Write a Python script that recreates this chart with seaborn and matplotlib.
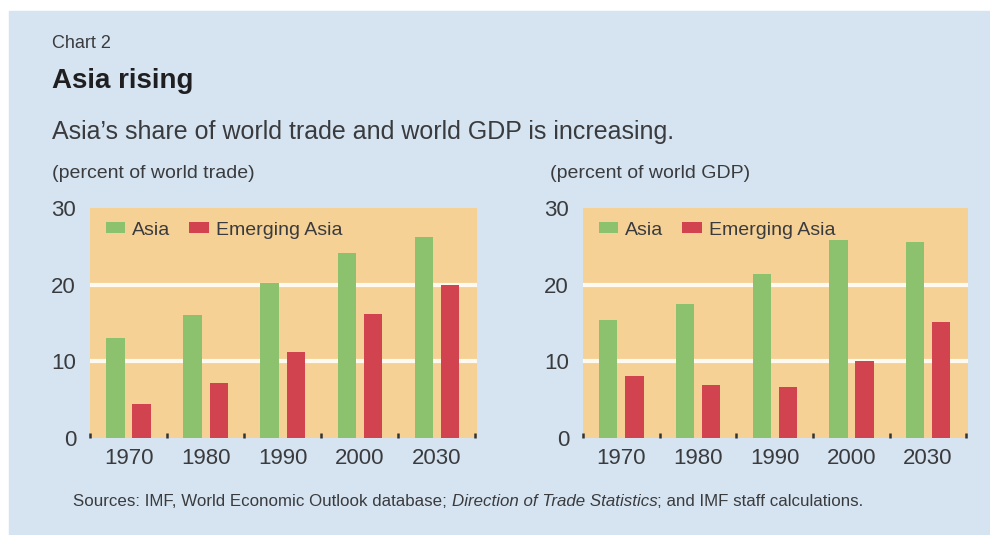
import matplotlib
matplotlib.use("Agg")
import matplotlib.pyplot as plt
import numpy as np
import pandas as pd
import seaborn as sns
from matplotlib.patches import Rectangle

years = ["1970", "1980", "1990", "2000", "2030"]
series_names = ["Asia", "Emerging Asia"]
trade_asia = [13.0, 16.0, 20.2, 24.1, 26.2]
trade_emerging = [4.4, 7.2, 11.2, 16.2, 20.0]
gdp_asia = [15.4, 17.5, 21.4, 25.8, 25.6]
gdp_emerging = [8.1, 6.9, 6.6, 10.0, 15.1]
y_ticks = [0, 10, 20, 30]

GREEN = "#8cc26e"
RED = "#d1444f"
PANEL = "#f6d195"
BLUE = "#d5e4f0"
TEXT = "#3a3b3e"

sns.set_theme(style="white")
plt.rcParams["font.family"] = ["Liberation Sans", "DejaVu Sans"]


def make_frame(asia, emerging):
    return pd.DataFrame({
        "year": years * 2,
        "series": [series_names[0]] * len(years) + [series_names[1]] * len(years),
        "value": asia + emerging,
    })


def draw_panel(ax, df):
    ax.set_facecolor(PANEL)
    for gy in y_ticks[1:-1]:
        ax.axhline(gy, color="#fffaf0", lw=3, zorder=0.5)
    sns.barplot(ax=ax, data=df, x="year", y="value", hue="series",
                palette=[GREEN, RED], width=0.68, gap=0.3,
                saturation=1, linewidth=0, zorder=2)
    ax.set_ylim(0, 30)
    ax.set_xlim(-0.5, 4.52)
    ax.set_yticks(y_ticks)
    ax.set_yticklabels([str(t) for t in y_ticks])
    ax.set_xticks(range(len(years)))
    ax.set_xticks(np.arange(-0.5, len(years), 1.0), minor=True)
    ax.tick_params(axis="x", which="both", bottom=True)
    ax.tick_params(axis="x", which="major", length=0, pad=7,
                   labelsize=16, labelcolor=TEXT)
    ax.tick_params(axis="x", which="minor", direction="in", length=3.5,
                   width=1.8, color="#333333")
    ax.tick_params(axis="y", length=0, pad=10, labelsize=16,
                   labelcolor=TEXT)
    ax.set_xlabel("")
    ax.set_ylabel("")
    for s in ax.spines.values():
        s.set_visible(False)
    ax.legend(loc="upper left", frameon=False, ncol=2, fontsize=14,
              handlelength=1.0, handleheight=0.45, handletextpad=0.35,
              columnspacing=1.0, borderaxespad=0.3,
              bbox_to_anchor=(0.005, 1.0), labelcolor=TEXT)


fig = plt.figure(figsize=(9.9, 5.35), dpi=100)
fig.patch.set_facecolor("white")
fig.patches.append(Rectangle((9 / 990, 0.0), 1 - 9 / 990, 1 - 9 / 535 - 0.004,
                             transform=fig.transFigure, color=BLUE,
                             zorder=-10))

ax_trade = fig.add_axes([90 / 990, 1 - 438 / 535, 387 / 990, 230 / 535])
ax_gdp = fig.add_axes([583 / 990, 1 - 438 / 535, 385 / 990, 230 / 535])

draw_panel(ax_trade, make_frame(trade_asia, trade_emerging))
draw_panel(ax_gdp, make_frame(gdp_asia, gdp_emerging))

fig.text(52 / 990, 1 - 44 / 535, "Chart 2", fontsize=13, color=TEXT,
         va="center")
fig.text(52 / 990, 1 - 81 / 535, "Asia rising", fontsize=20,
         fontweight="bold", color="#1f1f22", va="center")
fig.text(52 / 990, 1 - 132 / 535,
         "Asia\u2019s share of world trade and world GDP is increasing.",
         fontsize=18, color=TEXT, va="center")
fig.text(52 / 990, 1 - 173 / 535, "(percent of world trade)", fontsize=14,
         color=TEXT, va="center")
fig.text(550 / 990, 1 - 173 / 535, "(percent of world GDP)", fontsize=14,
         color=TEXT, va="center")

# sources line: plain / italic / plain pieces placed one after another
renderer = fig.canvas.get_renderer()
x_pos = 73 / 990
for piece, style in [
        ("Sources: IMF, World Economic Outlook database; ", "normal"),
        ("Direction of Trade Statistics", "italic"),
        ("; and IMF staff calculations.", "normal")]:
    t = fig.text(x_pos, 1 - 501 / 535, piece, fontsize=12.2, color=TEXT,
                 va="center", style=style)
    bb = t.get_window_extent(renderer=renderer)
    x_pos += bb.width / fig.bbox.width

fig.savefig("out.png", dpi=100, facecolor=fig.get_facecolor())
